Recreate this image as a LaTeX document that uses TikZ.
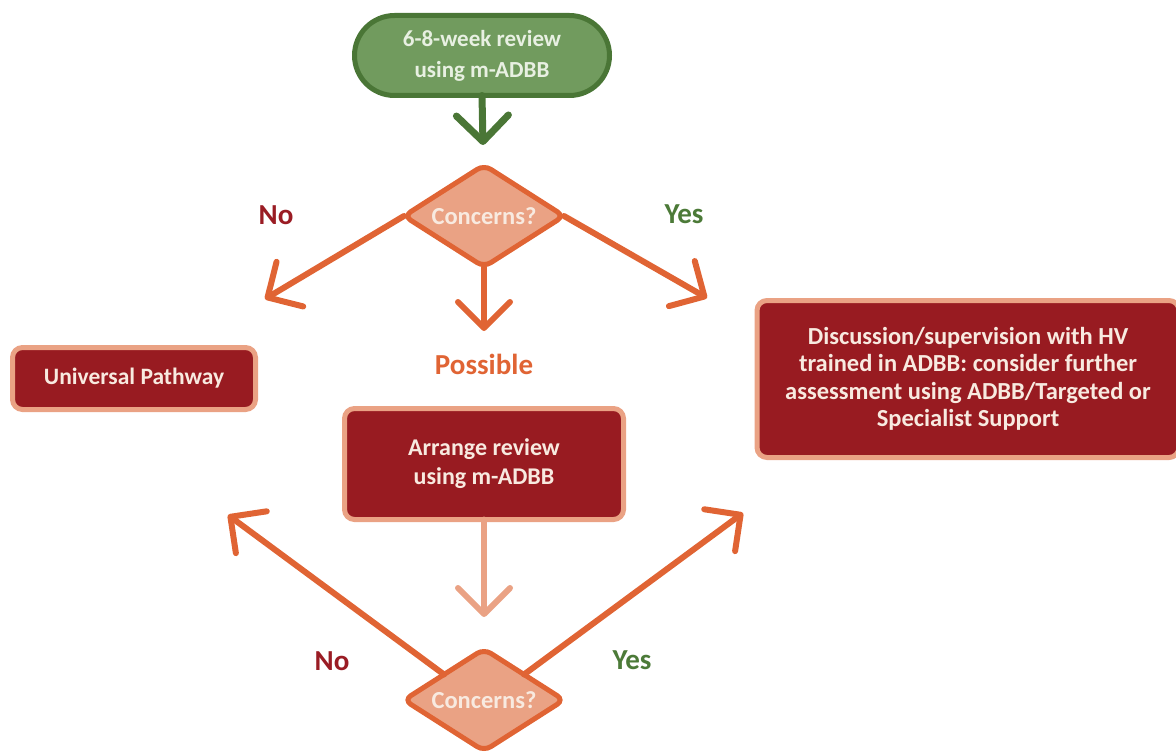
\documentclass[tikz,border=0pt]{standalone}
\usepackage{fontspec}
\setmainfont{Carlito}
\usetikzlibrary{shapes.geometric,arrows.meta}
\definecolor{leaf}{RGB}{113,155,94}
\definecolor{leafdark}{RGB}{74,118,54}
\definecolor{leaftext}{RGB}{232,240,226}
\definecolor{rust}{RGB}{224,100,52}
\definecolor{salmon}{RGB}{234,162,132}
\definecolor{wine}{RGB}{152,27,33}
\definecolor{cream}{RGB}{248,234,224}
\definecolor{nored}{RGB}{154,28,36}
\definecolor{yesgreen}{RGB}{76,122,56}
\tikzset{
  box/.style={rectangle, rounded corners=10pt, draw=salmon, line width=5pt, fill=wine,
    text=cream, align=center, inner sep=0pt, outer sep=0pt,
    font=\bfseries\fontsize{24}{29}\selectfont},
  ask/.style={diamond, aspect=1.55, rounded corners=8pt, draw=rust, line width=5pt,
    fill=salmon, text=cream, inner sep=0pt, outer sep=0pt,
    minimum width=160pt, minimum height=102pt,
    font=\bfseries\fontsize{24.5}{28}\selectfont},
  flow/.style={rust, line width=6pt, line cap=round,
    -{Straight Barb[length=26pt,width=52pt,round]}},
  tag/.style={font=\bfseries\fontsize{29}{32}\selectfont}
}
\begin{document}
\begin{tikzpicture}[x=1pt, y=-1pt]
\useasboundingbox (0,0) rectangle (1176,752);
% start
\node [rectangle, rounded corners=40pt, draw=leafdark, line width=5pt, fill=leaf,
  text=leaftext, align=center, inner sep=0pt, outer sep=0pt,
  minimum width=255pt, minimum height=80pt,
  font=\bfseries\fontsize{23}{31}\selectfont] (review) at (482,55.5) {6-8-week review\\using m-ADBB};
% first check
\node [ask] (chk1) at (484,216) {Concerns?};
\node [box, minimum width=243pt, minimum height=62pt,
  font=\bfseries\fontsize{23.5}{28}\selectfont] (univ) at (134,378.5) {Universal Pathway};
\node [box, minimum width=279pt, minimum height=111pt] (arrange) at (484,464) {Arrange review\\using m-ADBB};
\node [box, minimum width=422pt, minimum height=157pt,
  font=\bfseries\fontsize{24.5}{27.5}\selectfont] (discuss) at (968,379)
  {Discussion/supervision with HV\\trained in ADBB: consider further\\assessment using ADBB/Targeted or\\Specialist Support};
% second check
\node [ask] (chk2) at (484,700) {Concerns?};
% labels
\node [tag, text=nored] (no1) at (276,215) {No};
\node [tag, text=yesgreen] (yes1) at (684,214) {Yes};
\node [tag, text=rust] (maybe) at (484,364) {Possible};
\node [tag, text=nored] (no2) at (332,661) {No};
\node [tag, text=yesgreen] (yes2) at (632,660) {Yes};
% arrow ends
\coordinate (tipR) at (483,145);
\coordinate (tipNo1) at (265,299);
\coordinate (tipYes1) at (707,298);
\coordinate (tipMid) at (484,331);
\coordinate (tipLow) at (484,617);
\coordinate (tipNo2) at (228,515);
\coordinate (tipYes2) at (743,513);
\draw [flow, leafdark, line width=7pt] (review.south) -- (tipR);
\draw [flow] (chk1.west) -- (tipNo1);
\draw [flow] (chk1.east) -- (tipYes1);
\draw [flow] (chk1.south) -- (tipMid);
\draw [flow, salmon] (arrange.south) -- (tipLow);
\draw [flow] (chk2.north west) -- (tipNo2);
\draw [flow] (chk2.north east) -- (tipYes2);
\end{tikzpicture}
\end{document}
